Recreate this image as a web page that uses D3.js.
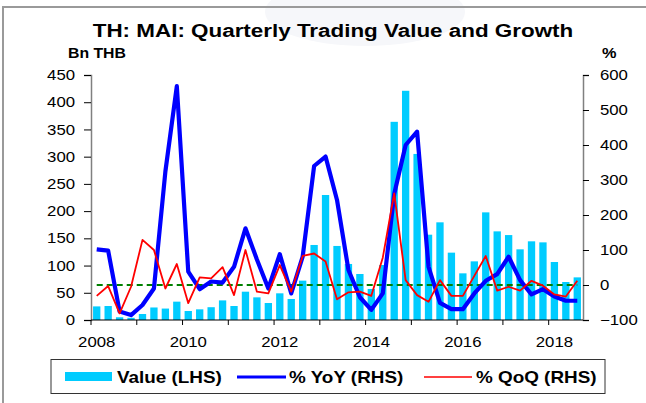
<!DOCTYPE html>
<html>
<head>
<meta charset="utf-8">
<script src="https://cdn.jsdelivr.net/npm/d3@7"></script>
<style>
  html, body { margin: 0; padding: 0; background: #fff; }
  svg { display: block; font-family: Arial, "Liberation Sans", sans-serif; }
</style>
</head>
<body>
<svg id="chart" width="646" height="403"></svg>
<script>
const quarters = [
  "2008Q1","2008Q2","2008Q3","2008Q4","2009Q1","2009Q2","2009Q3","2009Q4",
  "2010Q1","2010Q2","2010Q3","2010Q4","2011Q1","2011Q2","2011Q3","2011Q4",
  "2012Q1","2012Q2","2012Q3","2012Q4","2013Q1","2013Q2","2013Q3","2013Q4",
  "2014Q1","2014Q2","2014Q3","2014Q4","2015Q1","2015Q2","2015Q3","2015Q4",
  "2016Q1","2016Q2","2016Q3","2016Q4","2017Q1","2017Q2","2017Q3","2017Q4",
  "2018Q1","2018Q2","2018Q3"
];
const valueBn = [25, 25.7, 5, 4, 11, 23, 21, 33.7, 16.5, 19.6, 23.5, 36, 25.7, 52, 41.6, 31.2,
  49, 38.6, 72.3, 137.8, 229.6, 136, 102.9, 84.5, 57, 101, 364, 421, 305, 156.7, 179.4, 123.7,
  85.7, 107.7, 197.7, 162.8, 156, 129.8, 144.5, 142.6, 106.5, 69.8, 78.3];
const yoyPct = [102, 98, -76, -86, -57, -10, 324, 568, 38, -12, 10, 7, 52, 162, 73, -10,
  88, -24, 81, 340, 367, 243, 43, -35, -71, -24, 260, 400, 438, 52, -51, -69,
  -69, -24, 12, 31, 81, 14, -27, -12, -33, -45, -45];
const qoqPct = [-31, -3, -81, -5, 129, 100, -10, 60, -52, 22, 19, 51, -29, 100, -19, -24,
  57, -19, 83, 90, 67, -41, -21, -19, -31, 78, 262, 14, -29, -48, 14, -31,
  -31, 26, 83, -16, -5, -16, 12, -2, -27, -33, 12];
const zeroLine = quarters.map(() => 0);
const leftTicks = [0, 50, 100, 150, 200, 250, 300, 350, 400, 450];
const rightTicks = [-100, 0, 100, 200, 300, 400, 500, 600];
const yearLabels = ["2008","2010","2012","2014","2016","2018"];

const SX = 1.18; // horizontal text stretch seen in the reference
const svg = d3.select("#chart");
const L = 91, R = 583, T = 75, B = 320;

function stretchText(sel, x, y, anchor, sx) {
  return sel.attr("transform", `translate(${x},${y}) scale(${sx || SX},1)`)
    .attr("x", 0).attr("y", 0).attr("text-anchor", anchor || "start");
}

// faint background watermark
svg.append("ellipse").attr("cx", 365).attr("cy", 12).attr("rx", 100).attr("ry", 34)
  .attr("fill", "#f6f7fa");

// frame
svg.append("path").attr("d", "M3,403 L3,7 L646,7")
  .attr("fill", "none").attr("stroke", "#9a9a9a").attr("stroke-width", 2);

const x = d3.scaleBand().domain(quarters).range([L, R]).paddingInner(0.36).paddingOuter(0.18);
const xStep = d3.scaleBand().domain(quarters).range([L, R]).padding(0);
const yL = d3.scaleLinear().domain([0, 450]).range([B, T]);
const yR = d3.scaleLinear().domain([-100, 600]).range([B, T]);

// bars
svg.append("g").selectAll("rect").data(valueBn).join("rect")
  .attr("x", (d, i) => x(quarters[i]))
  .attr("width", x.bandwidth())
  .attr("y", d => yL(d))
  .attr("height", d => B - yL(d))
  .attr("fill", "#00CCFF");

const cx = (i) => xStep(quarters[i]) + xStep.bandwidth() / 2;

// zero dashed line
svg.append("path").datum(zeroLine)
  .attr("d", d3.line().x((d, i) => cx(i)).y(d => yR(d)))
  .attr("fill", "none").attr("stroke", "#008000").attr("stroke-width", 2)
  .attr("stroke-dasharray", "6,4");

// YoY
svg.append("path").datum(yoyPct)
  .attr("d", d3.line().x((d, i) => cx(i)).y(d => yR(d)))
  .attr("fill", "none").attr("stroke", "#0000FF").attr("stroke-width", 4.2)
  .attr("stroke-linejoin", "round");

// QoQ
svg.append("path").datum(qoqPct)
  .attr("d", d3.line().x((d, i) => cx(i)).y(d => yR(d)))
  .attr("fill", "none").attr("stroke", "#FF0000").attr("stroke-width", 1.8)
  .attr("stroke-linejoin", "round");

// axes
const axL = svg.append("g").attr("transform", `translate(${L},0)`)
  .call(d3.axisLeft(yL).tickValues(leftTicks).tickSize(7).tickPadding(9));
const axR = svg.append("g").attr("transform", `translate(${R},0)`)
  .call(d3.axisRight(yR).tickValues(rightTicks).tickSize(6).tickPadding(11));
[axL, axR].forEach(g => {
  g.select(".domain").attr("stroke", "#808080").attr("stroke-width", 1.5);
  g.selectAll(".tick line").attr("stroke", "#000");
  g.selectAll(".tick text").each(function() {
    const t = d3.select(this);
    const tx = +t.attr("x");
    t.attr("font-size", 14.2).attr("fill", "#000")
      .attr("font-family", "Arial, 'Liberation Sans', sans-serif")
      .attr("transform", `translate(${tx},0) scale(${SX},1)`).attr("x", 0);
  });
});

// x axis
const yearTickIdx = quarters.map((q, i) => i).filter(i => quarters[i].endsWith("Q1"));
const axX = svg.append("g").attr("transform", `translate(0,${B})`);
axX.append("line").attr("x1", L).attr("x2", R).attr("y1", 0).attr("y2", 0)
  .attr("stroke", "#000").attr("stroke-width", 1.2);
axX.selectAll("line.tk").data(yearTickIdx).join("line").attr("class", "tk")
  .attr("x1", i => xStep(quarters[i])).attr("x2", i => xStep(quarters[i]))
  .attr("y1", 0).attr("y2", 5).attr("stroke", "#000");
axX.selectAll("text").data(yearLabels).join("text")
  .attr("font-size", 14.2).text(d => d)
  .each(function(d) {
    stretchText(d3.select(this), cx(quarters.indexOf(d + "Q1")), 27, "middle");
  });

// titles
stretchText(svg.append("text"), 333, 37, "middle")
  .attr("font-size", 19).attr("font-weight", "bold").text("TH: MAI: Quarterly Trading Value and Growth");
stretchText(svg.append("text"), 68, 58, "start", 1.02)
  .attr("font-size", 15.5).attr("font-weight", "bold").text("Bn THB");
stretchText(svg.append("text"), 602, 58, "start", 1.05)
  .attr("font-size", 15.5).attr("font-weight", "bold").text("%");

// legend
const lg = svg.append("g");
lg.append("rect").attr("x", 51).attr("y", 359.5).attr("width", 554).attr("height", 34)
  .attr("fill", "#fff").attr("stroke", "#333").attr("stroke-width", 1);
lg.append("rect").attr("x", 65).attr("y", 372).attr("width", 47).attr("height", 9).attr("fill", "#00CCFF");
stretchText(lg.append("text"), 117, 383).attr("font-size", 16).attr("font-weight", "bold").text("Value (LHS)");
lg.append("line").attr("x1", 237).attr("x2", 286).attr("y1", 377).attr("y2", 377).attr("stroke", "#0000FF").attr("stroke-width", 3);
stretchText(lg.append("text"), 289, 383).attr("font-size", 16).attr("font-weight", "bold").text("% YoY (RHS)");
lg.append("line").attr("x1", 424).attr("x2", 472).attr("y1", 377).attr("y2", 377).attr("stroke", "#FF0000").attr("stroke-width", 1.5);
stretchText(lg.append("text"), 476, 383).attr("font-size", 16).attr("font-weight", "bold").text("% QoQ (RHS)");
</script>
</body>
</html>
